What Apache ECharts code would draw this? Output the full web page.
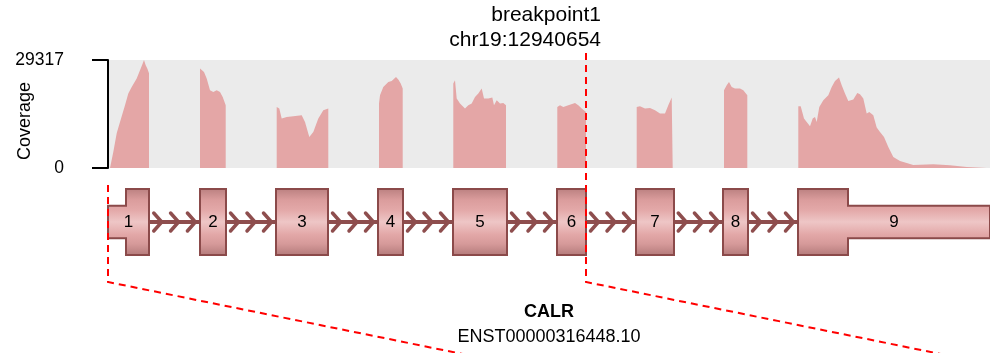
<!DOCTYPE html>
<html>
<head>
<meta charset="utf-8">
<script src="https://cdn.jsdelivr.net/npm/echarts@6/dist/echarts.min.js"></script>
<style>
html, body { margin: 0; padding: 0; background: #fff; }
#main { width: 990px; height: 353px; }
</style>
</head>
<body>
<div id="main"></div>
<script>
var FONT = "'Liberation Sans', Arial, sans-serif";

// positions are in compressed transcript units (0 = transcript start)
var axisMax = 882;
var covMax = 29317;
var breakpointPos = 478;
var breakpointText = ['breakpoint1', 'chr19:12940654'];
var geneName = 'CALR';
var transcriptId = 'ENST00000316448.10';

var exonLabels = ['1', '2', '3', '4', '5', '6', '7', '8', '9'];
var exonStart = [0, 92, 168, 270, 345, 449, 528, 615, 690];
var exonEnd = [41, 118, 220, 295, 399, 478, 566, 640, 882];
var cdsStart = [18, 92, 168, 270, 345, 449, 528, 615, 690];
var cdsEnd = [41, 118, 220, 295, 399, 478, 566, 640, 740];

// coverage per exon, [position, reads]
var cov1 = [[2, 0], [5.3, 4344], [8.7, 9420], [12, 12490], [17, 17020], [20.3, 20200], [23.7, 22000], [28.7, 24270], [32, 26525], [34.7, 28340], [36, 29317], [37.7, 27880], [39.3, 27000], [41, 25710]];
var cov2 = [[92, 26990], [93.7, 27420], [96, 26064], [98.7, 24270], [102, 21095], [105.3, 20634], [108.7, 21095], [112, 20634], [114.7, 19277], [117.7, 17023]];
var cov3 = [[168.7, 16560], [171.3, 16127], [173.7, 13412], [178.7, 13846], [185.3, 14036], [193.7, 14308], [197, 12490], [201.3, 8417], [205.3, 9774], [210.3, 13412], [215.3, 15665], [220.3, 16127]];
var cov4 = [[271, 17485], [272, 19740], [275.3, 21990], [280.3, 23350], [283.7, 23620], [288, 24700], [290.3, 24000], [292.7, 22910], [294.7, 21560]];
var cov5 = [[345.3, 22910], [347, 23810], [348.7, 18840], [352, 17485], [357, 16130], [360.3, 17020], [363.7, 17485], [367, 19280], [370.3, 20200], [373.7, 21560], [376, 18840], [380.3, 18840], [384.3, 19110], [386, 17020], [388.7, 18380], [392, 17485], [395.3, 17650], [398, 17020]];
var cov6 = [[449.3, 16560], [452, 17020], [455.3, 16560], [460.3, 17020], [467, 17650], [470.3, 17020], [473.7, 16130], [478, 15200]];
var cov7 = [[528.7, 16560], [532, 16750], [537, 16130], [542, 16290], [547, 15665], [552, 14770], [557, 14770], [560.3, 17020], [563.7, 19110], [564.7, 18840]];
var cov8 = [[616, 21095], [618.7, 22450], [621, 23350], [623.7, 21990], [627, 21560], [632, 21560], [635.3, 21095], [639.3, 19740]];
var cov9 = [[690.3, 16750], [692.7, 16750], [696, 13410], [698.7, 12490], [702, 11320], [704.7, 13410], [707, 13850], [708.7, 12490], [711.3, 16560], [715.3, 18380], [720.3, 19740], [723.7, 21990], [727, 23620], [731, 24540], [733.7, 22450], [737, 20200], [740.3, 18190], [745.3, 18570], [749.3, 20360], [752, 20010], [755.3, 18840], [758.7, 14770], [761.3, 15200], [765.3, 14310], [768.7, 10970], [772, 9770], [776, 8420], [780.3, 5700], [785.3, 2990], [792, 1900], [798.7, 1360], [805.3, 815], [825.3, 1000], [842, 730], [858.7, 270], [878.7, 100]];

var coverage = [cov1, cov2, cov3, cov4, cov5, cov6, cov7, cov8, cov9];

var COV_COLOR = '#E4A6A6';
var EXON_EDGE = '#8B4A4A';
var INTRON = '#8E4E4E';

var chart = echarts.init(document.getElementById('main'));

var covSeries = coverage.map(function (pts) {
    var d = [[pts[0][0], 0]].concat(pts, [[pts[pts.length - 1][0], 0]]);
    return {
        type: 'line',
        xAxisIndex: 0,
        yAxisIndex: 0,
        data: d,
        symbol: 'none',
        silent: true,
        lineStyle: { width: 0, color: COV_COLOR },
        itemStyle: { color: COV_COLOR },
        areaStyle: { color: COV_COLOR, opacity: 1 }
    };
});

var intronData = [];
for (var i = 0; i < exonStart.length - 1; i++) {
    intronData.push([exonEnd[i], exonStart[i + 1]]);
}
var exonData = exonStart.map(function (s, i) {
    return [s, exonEnd[i], cdsStart[i], cdsEnd[i]];
});

function renderIntron(params, api) {
    var a = api.value(0), b = api.value(1);
    var p0 = api.coord([a, 0]), p1 = api.coord([b, 0]);
    var kids = [{
        type: 'line',
        shape: { x1: p0[0], y1: p0[1], x2: p1[0], y2: p1[1] },
        style: { stroke: INTRON, lineWidth: 4 }
    }];
    [0.25, 0.58, 0.91].forEach(function (f) {
        var t = api.coord([a + (b - a) * f, 0]);
        kids.push({
            type: 'polyline',
            shape: { points: [[t[0] - 8, t[1] - 9], [t[0], t[1]], [t[0] - 8, t[1] + 9]] },
            style: { stroke: INTRON, lineWidth: 3.5, fill: null, lineCap: 'round' }
        });
    });
    return { type: 'group', children: kids };
}

function renderExon(params, api) {
    var s = api.value(0), e = api.value(1), ts = api.value(2), te = api.value(3);
    var u = 0.49;
    var pts = [[s, u], [ts, u], [ts, 1], [te, 1], [te, u], [e, u],
        [e, -u], [te, -u], [te, -1], [ts, -1], [ts, -u], [s, -u]].map(function (p) {
        return api.coord(p);
    });
    var c = api.coord([(s + e) / 2, 0]);
    var grad = new echarts.graphic.LinearGradient(0, 0, 0, 1, [
        { offset: 0, color: '#B97F7F' },
        { offset: 0.18, color: '#DB9D9D' },
        { offset: 0.32, color: '#E3A8A8' },
        { offset: 0.5, color: '#EEC6C6' },
        { offset: 0.68, color: '#E3A8A8' },
        { offset: 0.82, color: '#D69A9A' },
        { offset: 1, color: '#B27979' }
    ]);
    return {
        type: 'group',
        children: [{
            type: 'polygon',
            shape: { points: pts },
            style: { fill: grad, stroke: EXON_EDGE, lineWidth: 2 }
        }, {
            type: 'text',
            x: c[0],
            y: c[1],
            style: {
                text: exonLabels[params.dataIndex],
                fill: '#000',
                font: '17px ' + FONT,
                align: 'center',
                verticalAlign: 'middle'
            }
        }]
    };
}

var option = {
    animation: false,
    grid: [
        { left: 108, right: 0, top: 60, height: 108, show: true, backgroundColor: '#EBEBEB', borderWidth: 0 },
        { left: 108, right: 0, top: 189, height: 66 }
    ],
    xAxis: [
        { type: 'value', gridIndex: 0, min: 0, max: axisMax, show: false },
        { type: 'value', gridIndex: 1, min: 0, max: axisMax, show: false }
    ],
    yAxis: [{
        type: 'value',
        gridIndex: 0,
        min: 0,
        max: covMax,
        interval: covMax,
        offset: 18,
        axisLine: { show: true, lineStyle: { color: '#000', width: 2 } },
        axisTick: { show: true, length: 16, lineStyle: { color: '#000', width: 2 } },
        axisLabel: {
            margin: 26, color: '#000', fontSize: 17.5, fontFamily: FONT,
            formatter: function (v) { return String(v); }
        },
        splitLine: { show: false }
    }, {
        type: 'value', gridIndex: 1, min: -1, max: 1, show: false
    }],
    series: covSeries.concat([{
        type: 'custom',
        xAxisIndex: 1,
        yAxisIndex: 1,
        data: intronData,
        renderItem: renderIntron,
        silent: true,
        z: 2
    }, {
        type: 'custom',
        xAxisIndex: 1,
        yAxisIndex: 1,
        data: exonData,
        renderItem: renderExon,
        silent: true,
        z: 3
    }])
};
chart.setOption(option);

// breakpoint / transcript guide lines and texts
var x0 = chart.convertToPixel({ xAxisIndex: 1 }, exonStart[0]);
var xb = chart.convertToPixel({ xAxisIndex: 1 }, breakpointPos);
var xc = chart.convertToPixel({ xAxisIndex: 1 }, axisMax / 2);
var slope = 0.203;
var dash = { stroke: '#FF0000', lineWidth: 2, lineDash: [7, 5], fill: null };

function guide(x, yTop) {
    return {
        type: 'polyline',
        z: 100,
        shape: { points: [[x, yTop], [x, 282], [x + (420 - 282) / slope, 420]] },
        style: dash
    };
}

chart.setOption({
    graphic: [
        guide(x0, 185),
        guide(xb, 53),
        {
            type: 'text', x: xb + 15, y: 15, z: 100,
            style: { text: breakpointText[0], font: '21px ' + FONT, fill: '#000', align: 'right', verticalAlign: 'middle' }
        },
        {
            type: 'text', x: xb + 15, y: 40, z: 100,
            style: { text: breakpointText[1], font: '21px ' + FONT, fill: '#000', align: 'right', verticalAlign: 'middle' }
        },
        {
            type: 'text', x: 25, y: 121, rotation: Math.PI / 2, z: 100,
            style: { text: 'Coverage', font: '18px ' + FONT, fill: '#000', align: 'center', verticalAlign: 'middle' }
        },
        {
            type: 'text', x: xc, y: 312, z: 100,
            style: { text: geneName, font: 'bold 18px ' + FONT, fill: '#000', align: 'center', verticalAlign: 'middle' }
        },
        {
            type: 'text', x: xc, y: 337, z: 100,
            style: { text: transcriptId, font: '18px ' + FONT, fill: '#000', align: 'center', verticalAlign: 'middle' }
        }
    ]
});
</script>
</body>
</html>
